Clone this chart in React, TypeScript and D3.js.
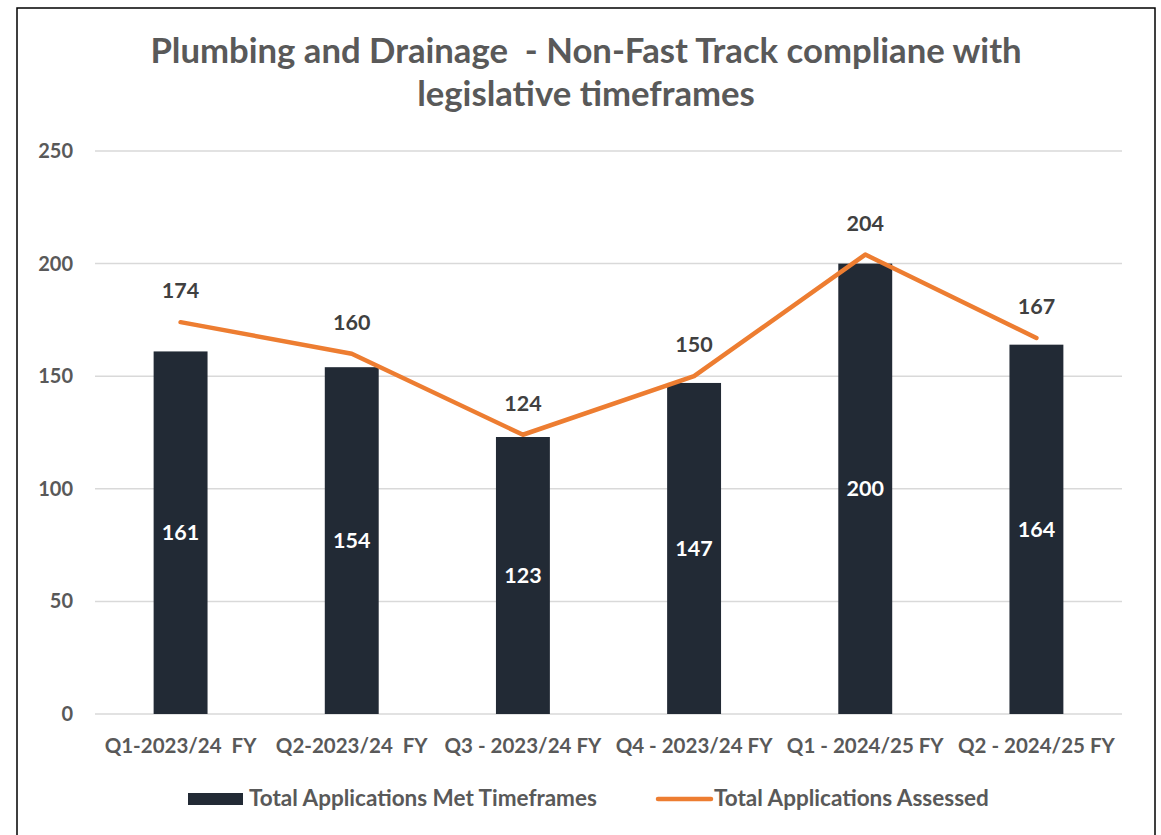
import React, { useEffect, useRef } from 'react'
import * as d3 from 'd3'

const categories = ['Q1-2023/24  FY', 'Q2-2023/24  FY', 'Q3 - 2023/24 FY', 'Q4 - 2023/24 FY', 'Q1 - 2024/25 FY', 'Q2 - 2024/25 FY']
const metTimeframes = [161, 154, 123, 147, 200, 164]
const assessed = [174, 160, 124, 150, 204, 167]
const yTicks = [0, 50, 100, 150, 200, 250]
const titleLines = ['Plumbing and Drainage  - Non-Fast Track compliane with', 'legislative timeframes']
const legendLabels = ['Total Applications Met Timeframes', 'Total Applications Assessed']

const W = 1161
const H = 835
const FONT = 'Lato, "Open Sans", sans-serif'
const BAR = '#222A35'
const ORANGE = '#ED7D31'

export default function App() {
  const ref = useRef<SVGSVGElement>(null)

  useEffect(() => {
    const svg = d3.select(ref.current)
    svg.selectAll('*').remove()

    const margin = { top: 151, right: 39, bottom: 121, left: 95 }
    const width = W - margin.left - margin.right
    const height = H - margin.top - margin.bottom

    svg.append('rect')
      .attr('x', 17).attr('y', 8)
      .attr('width', 1138).attr('height', H)
      .attr('fill', '#fff').attr('stroke', '#000').attr('stroke-width', 1.5)

    svg.append('g')
      .selectAll('text')
      .data(titleLines)
      .enter().append('text')
      .attr('x', 586)
      .attr('y', (d, i) => 63 + i * 43)
      .attr('text-anchor', 'middle')
      .style('font-family', FONT)
      .style('font-weight', 700)
      .style('font-size', '34.7px')
      .style('fill', '#595959')
      .style('white-space', 'pre')
      .text(d => d)

    const x = d3.scaleBand().domain(categories).range([0, width])
    const y = d3.scaleLinear().domain([0, 250]).range([height, 0])
    const barW = x.bandwidth() * 0.315
    const cx = (i: number) => x(categories[i])! + x.bandwidth() / 2

    const g = svg.append('g').attr('transform', `translate(${margin.left},${margin.top})`)

    g.selectAll('.grid')
      .data(yTicks)
      .enter().append('line')
      .attr('x1', 0).attr('x2', width)
      .attr('y1', d => y(d)).attr('y2', d => y(d))
      .style('stroke', '#D9D9D9').style('stroke-width', 1.5)

    g.selectAll('.ylab')
      .data(yTicks)
      .enter().append('text')
      .attr('x', -22)
      .attr('y', d => y(d))
      .attr('dy', '0.35em')
      .attr('text-anchor', 'end')
      .style('font-family', FONT).style('font-weight', 700).style('font-size', '20px')
      .style('fill', '#595959')
      .text(d => d)

    g.selectAll('.xlab')
      .data(categories)
      .enter().append('text')
      .attr('x', (d, i) => cx(i))
      .attr('y', height + 39)
      .attr('text-anchor', 'middle')
      .style('font-family', FONT).style('font-weight', 700).style('font-size', '20.5px')
      .style('fill', '#595959')
      .style('white-space', 'pre')
      .text(d => d)

    g.selectAll('.bar')
      .data(metTimeframes)
      .enter().append('rect')
      .attr('x', (d, i) => cx(i) - barW / 2)
      .attr('y', d => y(d))
      .attr('width', barW)
      .attr('height', d => height - y(d))
      .style('fill', BAR)

    g.selectAll('.barlab')
      .data(metTimeframes)
      .enter().append('text')
      .attr('x', (d, i) => cx(i))
      .attr('y', d => (y(d) + height) / 2)
      .attr('dy', '0.35em')
      .attr('text-anchor', 'middle')
      .style('font-family', FONT).style('font-weight', 700).style('font-size', '21.5px')
      .style('fill', '#fff')
      .text(d => d)

    const dataLine = d3.line<number>()
      .x((d, i) => cx(i))
      .y(d => y(d))

    g.append('path')
      .datum(assessed)
      .attr('d', dataLine)
      .style('fill', 'none')
      .style('stroke', ORANGE)
      .style('stroke-width', 4.5)
      .style('stroke-linecap', 'round')
      .style('stroke-linejoin', 'round')

    g.selectAll('.linelab')
      .data(assessed)
      .enter().append('text')
      .attr('x', (d, i) => cx(i))
      .attr('y', d => y(d) - 24)
      .attr('text-anchor', 'middle')
      .style('font-family', FONT).style('font-weight', 700).style('font-size', '21.5px')
      .style('fill', '#404040')
      .text(d => d)

    // legend
    const leg = svg.append('g')
    leg.append('rect')
      .attr('x', 188).attr('y', 793).attr('width', 55).attr('height', 12)
      .style('fill', BAR)
    leg.append('text')
      .attr('x', 249).attr('y', 806)
      .style('font-family', FONT).style('font-weight', 700).style('font-size', '22.5px')
      .style('fill', '#595959')
      .text(legendLabels[0])
    leg.append('line')
      .attr('x1', 658).attr('x2', 711).attr('y1', 799).attr('y2', 799)
      .style('stroke', ORANGE).style('stroke-width', 4.5).style('stroke-linecap', 'round')
    leg.append('text')
      .attr('x', 714).attr('y', 806)
      .style('font-family', FONT).style('font-weight', 700).style('font-size', '22.5px')
      .style('fill', '#595959')
      .text(legendLabels[1])
  }, [])

  return (
    <svg ref={ref} width={W} height={H}
      style={{ position: 'absolute', left: 0, top: 0, background: '#fff' }} />
  )
}
